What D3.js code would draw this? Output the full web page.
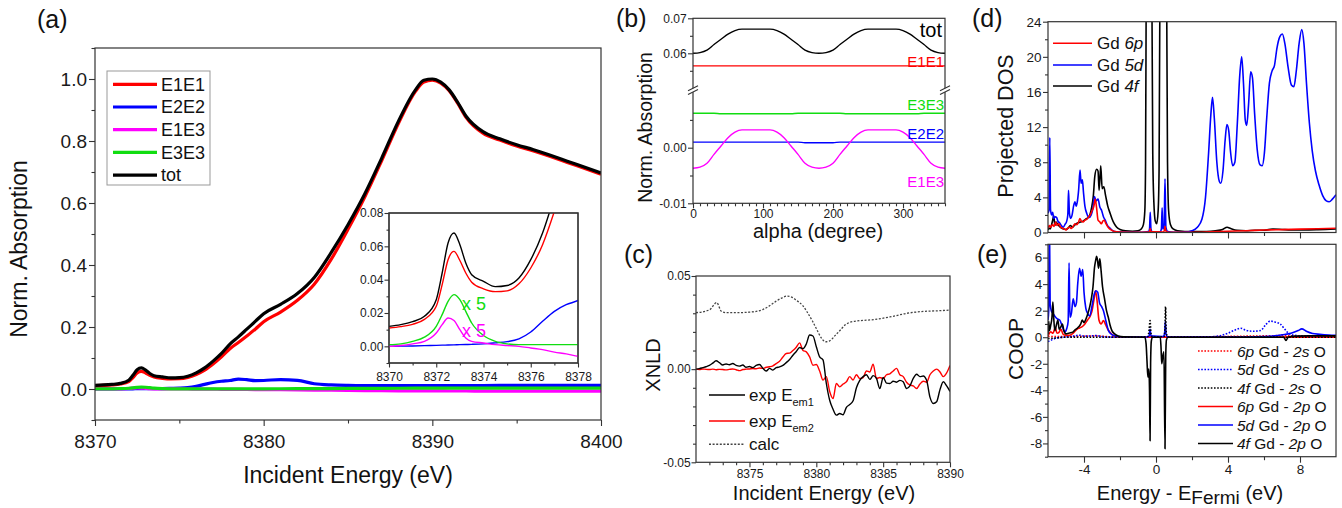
<!DOCTYPE html>
<html>
<head>
<meta charset="utf-8">
<script src="https://cdn.jsdelivr.net/npm/d3@7"></script>
<style>
  body { margin: 0; background: #fff; }
</style>
</head>
<body>
<script>
// ---------- data: panel (a) ----------
const enA   = [8370, 8370.5, 8371, 8371.5, 8372, 8372.25, 8372.5, 8372.75, 8373, 8373.25, 8373.5, 8374, 8374.5, 8375, 8375.5, 8376, 8376.5, 8377, 8377.5, 8378, 8378.5, 8379, 8379.5, 8380, 8381, 8382, 8383, 8384, 8385, 8386, 8387, 8388, 8389, 8389.5, 8390, 8390.5, 8391, 8391.5, 8392, 8393, 8394, 8395, 8396, 8397, 8398, 8399, 8400];
const totA  = [0.0120, 0.0130, 0.0148, 0.0180, 0.0280, 0.0440, 0.0620, 0.0680, 0.0610, 0.0500, 0.0430, 0.0390, 0.0358, 0.0365, 0.0410, 0.0520, 0.0680, 0.0900, 0.1150, 0.1450, 0.1680, 0.1930, 0.2180, 0.2430, 0.2730, 0.3080, 0.3600, 0.4400, 0.5300, 0.6300, 0.7450, 0.8650, 0.9650, 0.9960, 1.0000, 0.9900, 0.9650, 0.9250, 0.8800, 0.8300, 0.8070, 0.7880, 0.7720, 0.7540, 0.7350, 0.7160, 0.6970];
const e1e1A = [0.0110, 0.0118, 0.0132, 0.0162, 0.0240, 0.0370, 0.0520, 0.0570, 0.0515, 0.0440, 0.0385, 0.0345, 0.0328, 0.0333, 0.0375, 0.0470, 0.0610, 0.0810, 0.1040, 0.1300, 0.1500, 0.1710, 0.1930, 0.2170, 0.2480, 0.2860, 0.3380, 0.4180, 0.5150, 0.6200, 0.7370, 0.8580, 0.9600, 0.9900, 0.9960, 0.9870, 0.9620, 0.9220, 0.8760, 0.8250, 0.8030, 0.7840, 0.7680, 0.7500, 0.7310, 0.7120, 0.6930];
const e2e2A = [0.0000, 0.0001, 0.0002, 0.0004, 0.0006, 0.0007, 0.0008, 0.0009, 0.0010, 0.0011, 0.0012, 0.0015, 0.0021, 0.0028, 0.0045, 0.0086, 0.0150, 0.0210, 0.0250, 0.0275, 0.0320, 0.0300, 0.0270, 0.0275, 0.0305, 0.0280, 0.0170, 0.0130, 0.0115, 0.0110, 0.0110, 0.0110, 0.0110, 0.0110, 0.0110, 0.0110, 0.0110, 0.0111, 0.0112, 0.0113, 0.0114, 0.0115, 0.0116, 0.0117, 0.0118, 0.0119, 0.0120];
const e1e3A = [0.0000, 0.0001, 0.0003, 0.0006, 0.0016, 0.0026, 0.0034, 0.0031, 0.0020, 0.0010, 0.0006, 0.0004, 0.0002, 0.0001, 0.0000, -0.0002, -0.0004, -0.0007, -0.0009, -0.0012, -0.0014, -0.0016, -0.0018, -0.0020, -0.0025, -0.0030, -0.0035, -0.0040, -0.0045, -0.0050, -0.0055, -0.0058, -0.0060, -0.0061, -0.0062, -0.0063, -0.0064, -0.0065, -0.0065, -0.0066, -0.0066, -0.0067, -0.0067, -0.0068, -0.0068, -0.0068, -0.0068];
const e3e3A = [0.0002, 0.0003, 0.0006, 0.0011, 0.0024, 0.0038, 0.0054, 0.0062, 0.0056, 0.0042, 0.0028, 0.0013, 0.0006, 0.0003, 0.0002, 0.0002, 0.0002, 0.0002, 0.0002, 0.0002, 0.0003, 0.0004, 0.0005, 0.0006, 0.0008, 0.0010, 0.0012, 0.0015, 0.0018, 0.0020, 0.0022, 0.0024, 0.0026, 0.0027, 0.0028, 0.0028, 0.0029, 0.0029, 0.0030, 0.0030, 0.0030, 0.0030, 0.0030, 0.0030, 0.0030, 0.0030, 0.0030];
const insetScale = 5; // E1E3 and E3E3 are shown x 5 in the inset

// ---------- data: panel (b) ----------
const alphaB = [0, 10, 20, 30, 40, 50, 60, 70, 80, 90, 100, 110, 120, 130, 140, 150, 160, 170, 180, 190, 200, 210, 220, 230, 240, 250, 260, 270, 280, 290, 300, 310, 320, 330, 340, 350, 360];
const totB  = [0.0600, 0.0602, 0.0609, 0.0625, 0.0640, 0.0655, 0.0665, 0.0669, 0.0669, 0.0669, 0.0669, 0.0669, 0.0665, 0.0655, 0.0640, 0.0625, 0.0609, 0.0602, 0.0600, 0.0602, 0.0609, 0.0625, 0.0640, 0.0655, 0.0665, 0.0669, 0.0669, 0.0669, 0.0669, 0.0669, 0.0665, 0.0655, 0.0640, 0.0625, 0.0609, 0.0602, 0.0600];
const e1e1B = [0.0564, 0.0564, 0.0564, 0.0564, 0.0564, 0.0564, 0.0564, 0.0564, 0.0564, 0.0564, 0.0564, 0.0564, 0.0564, 0.0564, 0.0564, 0.0564, 0.0564, 0.0564, 0.0564, 0.0564, 0.0564, 0.0564, 0.0564, 0.0564, 0.0564, 0.0564, 0.0564, 0.0564, 0.0564, 0.0564, 0.0564, 0.0564, 0.0564, 0.0564, 0.0564, 0.0564, 0.0564];
const e3e3B = [0.0062, 0.0062, 0.0062, 0.0062, 0.0061, 0.0061, 0.0061, 0.0061, 0.0061, 0.0061, 0.0061, 0.0061, 0.0061, 0.0061, 0.0061, 0.0062, 0.0062, 0.0062, 0.0062, 0.0062, 0.0062, 0.0062, 0.0061, 0.0061, 0.0061, 0.0061, 0.0061, 0.0061, 0.0061, 0.0061, 0.0061, 0.0061, 0.0061, 0.0062, 0.0062, 0.0062, 0.0062];
const e2e2B = [0.0010, 0.0010, 0.0010, 0.0010, 0.0010, 0.0010, 0.0010, 0.0010, 0.0010, 0.0010, 0.0010, 0.0010, 0.0010, 0.0010, 0.0010, 0.0010, 0.0009, 0.0009, 0.0009, 0.0009, 0.0009, 0.0010, 0.0010, 0.0010, 0.0010, 0.0010, 0.0010, 0.0010, 0.0010, 0.0010, 0.0010, 0.0010, 0.0010, 0.0010, 0.0010, 0.0010, 0.0010];
const e1e3B = [-0.0037, -0.0035, -0.0028, -0.0012, 0.0003, 0.0018, 0.0028, 0.0032, 0.0032, 0.0032, 0.0032, 0.0032, 0.0028, 0.0018, 0.0003, -0.0012, -0.0028, -0.0035, -0.0037, -0.0035, -0.0028, -0.0012, 0.0003, 0.0018, 0.0028, 0.0032, 0.0032, 0.0032, 0.0032, 0.0032, 0.0028, 0.0018, 0.0003, -0.0012, -0.0028, -0.0035, -0.0037];

// ---------- data: panel (c) ----------
const enC = [8371.00, 8371.25, 8371.50, 8371.75, 8372.00, 8372.25, 8372.50, 8372.75, 8373.00, 8373.25, 8373.50, 8373.75, 8374.00, 8374.25, 8374.50, 8374.75, 8375.00, 8375.25, 8375.50, 8375.75, 8376.00, 8376.25, 8376.50, 8376.75, 8377.00, 8377.25, 8377.50, 8377.75, 8378.00, 8378.25, 8378.50, 8378.75, 8379.00, 8379.25, 8379.50, 8379.75, 8380.00, 8380.25, 8380.50, 8380.75, 8381.00, 8381.25, 8381.50, 8381.75, 8382.00, 8382.25, 8382.50, 8382.75, 8383.00, 8383.25, 8383.50, 8383.75, 8384.00, 8384.25, 8384.50, 8384.75, 8385.00, 8385.25, 8385.50, 8385.75, 8386.00, 8386.25, 8386.50, 8386.75, 8387.00, 8387.25, 8387.50, 8387.75, 8388.00, 8388.25, 8388.50, 8388.75, 8389.00, 8389.25, 8389.50, 8389.75, 8390.00];
const expEm1 = [0.0000, 0.0003, 0.0008, 0.0013, 0.0020, 0.0032, 0.0045, 0.0035, 0.0022, 0.0028, 0.0024, 0.0030, 0.0020, 0.0016, 0.0022, 0.0010, 0.0014, 0.0008, 0.0020, 0.0025, 0.0005, -0.0010, 0.0004, -0.0005, 0.0008, 0.0012, 0.0020, 0.0035, 0.0052, 0.0075, 0.0095, 0.0116, 0.0110, 0.0135, 0.0183, 0.0178, 0.0120, 0.0066, 0.0050, -0.0077, -0.0167, -0.0215, -0.0247, -0.0238, -0.0245, -0.0205, -0.0190, -0.0170, -0.0100, -0.0060, -0.0040, -0.0030, -0.0055, -0.0035, -0.0050, -0.0104, -0.0045, -0.0075, -0.0077, -0.0065, -0.0070, -0.0060, -0.0068, -0.0104, -0.0090, -0.0050, -0.0027, -0.0040, -0.0037, -0.0060, -0.0150, -0.0184, -0.0175, -0.0110, -0.0068, -0.0090, -0.0120];
const expEm2 = [0.0000, -0.0002, 0.0001, -0.0001, -0.0002, 0.0000, -0.0003, -0.0001, -0.0002, -0.0004, -0.0001, 0.0001, -0.0003, -0.0008, -0.0002, 0.0000, 0.0001, 0.0003, 0.0002, 0.0006, 0.0004, 0.0010, 0.0013, 0.0018, 0.0030, 0.0042, 0.0065, 0.0084, 0.0086, 0.0100, 0.0118, 0.0141, 0.0100, 0.0093, 0.0066, 0.0021, 0.0025, -0.0010, -0.0059, -0.0040, -0.0120, -0.0158, -0.0077, -0.0095, -0.0080, -0.0068, -0.0040, -0.0058, -0.0030, -0.0050, -0.0045, -0.0010, -0.0015, 0.0027, -0.0050, -0.0045, -0.0050, -0.0030, -0.0025, -0.0010, 0.0004, -0.0030, -0.0040, -0.0070, -0.0085, -0.0090, -0.0104, -0.0080, -0.0065, -0.0070, -0.0030, -0.0010, 0.0000, -0.0015, -0.0040, -0.0020, 0.0020];
const calcC = [[8371, 0.0303], [8372, 0.0318], [8372.55, 0.0357], [8372.9, 0.0310], [8373.3, 0.0303], [8374, 0.0303], [8375, 0.0306], [8375.5, 0.0310], [8376, 0.0320], [8376.5, 0.0340], [8377, 0.0365], [8377.5, 0.0385], [8377.8, 0.0392], [8378.2, 0.0385], [8378.5, 0.0370], [8379, 0.0340], [8379.3, 0.0308], [8379.7, 0.0260], [8380, 0.0218], [8380.4, 0.0165], [8380.7, 0.0147], [8381, 0.0152], [8381.4, 0.0180], [8381.8, 0.0210], [8382.2, 0.0240], [8382.5, 0.0251], [8383, 0.0258], [8384.3, 0.0266], [8385.5, 0.0280], [8386.8, 0.0300], [8388, 0.0310], [8389, 0.0313], [8390, 0.0317]];

// ---------- data: panel (d), [energy, DOS] ----------
const dos6p = [[-6.00,0.5],[-5.92,0.8],[-5.85,0.6],[-5.75,0.9],[-5.66,0.7],[-5.58,1.2],[-5.50,0.8],[-5.40,1.0],[-5.30,0.6],[-5.20,0.5],[-5.10,0.4],[-5.00,0.3],[-4.90,0.5],[-4.80,0.6],[-4.70,0.45],[-4.60,0.7],[-4.50,1.0],[-4.40,0.9],[-4.30,1.2],[-4.23,1.6],[-4.15,1.3],[-4.05,1.2],[-3.95,1.4],[-3.85,1.5],[-3.77,1.7],[-3.65,2.0],[-3.55,2.5],[-3.45,3.0],[-3.38,3.8],[-3.30,2.8],[-3.22,1.4],[-3.12,1.2],[-3.04,1.0],[-2.95,1.3],[-2.87,1.4],[-2.78,1.0],[-2.66,0.6],[-2.50,0.3],[-2.35,0.15],[-2.0,0.05],[-1.0,0.03],[-0.45,0.05],[-0.36,0.1],[-0.32,0.45],[-0.28,0.1],[0.40,0.05],[0.46,0.2],[0.50,0.7],[0.55,0.15],[0.7,0.03],[2.0,0.03],[3.0,0.08],[4.0,0.15],[5.0,0.2],[6.0,0.28],[7.0,0.33],[8.0,0.38],[9.0,0.43],[10.0,0.48]];
const dos5d = [[-6.00,2.2],[-5.94,2.6],[-5.90,10.8],[-5.86,2.6],[-5.80,2.0],[-5.74,2.3],[-5.68,1.6],[-5.60,1.8],[-5.52,1.7],[-5.45,1.3],[-5.36,1.1],[-5.26,0.8],[-5.16,0.6],[-5.06,0.9],[-4.96,1.3],[-4.90,2.0],[-4.86,4.8],[-4.81,2.2],[-4.74,1.6],[-4.66,2.0],[-4.58,3.0],[-4.50,3.5],[-4.44,3.0],[-4.38,3.4],[-4.30,4.8],[-4.22,7.1],[-4.16,5.6],[-4.09,6.0],[-4.03,4.6],[-3.95,3.0],[-3.85,2.2],[-3.72,1.7],[-3.60,2.0],[-3.50,2.8],[-3.42,4.1],[-3.33,3.6],[-3.22,3.8],[-3.12,2.9],[-3.02,2.5],[-2.92,1.8],[-2.82,1.4],[-2.70,0.8],[-2.56,0.5],[-2.40,0.2],[-2.20,0.08],[-1.5,0.03],[-0.8,0.03],[-0.42,0.1],[-0.36,0.4],[-0.32,2.3],[-0.28,0.4],[-0.2,0.08],[0.24,0.1],[0.30,0.4],[0.34,2.8],[0.38,0.4],[0.45,0.6],[0.50,6.1],[0.55,0.6],[0.65,0.1],[1.0,0.03],[1.6,0.05],[2.0,0.2],[2.3,0.6],[2.55,1.5],[2.75,4.0],[2.92,9.0],[3.05,13.5],[3.14,15.4],[3.24,13.0],[3.38,8.0],[3.52,5.8],[3.60,5.6],[3.72,7.0],[3.84,10.5],[3.94,12.3],[4.04,11.6],[4.14,9.2],[4.26,7.6],[4.38,8.0],[4.52,12.5],[4.65,17.8],[4.76,20.0],[4.86,17.0],[4.96,12.8],[5.04,12.2],[5.14,14.5],[5.26,18.3],[5.36,17.6],[5.48,13.5],[5.62,9.5],[5.78,7.7],[5.90,7.6],[6.02,9.0],[6.15,13.0],[6.30,17.0],[6.45,18.4],[6.58,19.0],[6.72,21.0],[6.88,22.3],[7.02,22.6],[7.16,21.5],[7.34,18.8],[7.52,16.8],[7.66,16.6],[7.80,18.5],[7.95,21.5],[8.10,23.1],[8.22,21.5],[8.36,17.0],[8.52,12.5],[8.68,9.3],[8.86,7.0],[9.06,5.4],[9.26,4.2],[9.46,3.6],[9.62,3.5],[9.80,3.8],[10.0,4.3]];
const dos4f = [[-6.00,0.3],[-5.94,0.5],[-5.88,0.4],[-5.80,0.9],[-5.74,1.4],[-5.68,1.9],[-5.62,0.8],[-5.55,1.2],[-5.46,0.9],[-5.36,0.7],[-5.25,0.5],[-5.12,0.4],[-5.00,0.35],[-4.88,0.5],[-4.76,0.8],[-4.64,0.6],[-4.54,0.8],[-4.44,1.0],[-4.33,1.1],[-4.20,1.2],[-4.05,1.3],[-3.92,1.5],[-3.77,1.7],[-3.66,2.1],[-3.58,2.8],[-3.48,4.2],[-3.40,6.4],[-3.30,7.2],[-3.22,7.0],[-3.16,4.8],[-3.07,7.6],[-2.99,5.0],[-2.90,5.2],[-2.80,4.2],[-2.68,3.0],[-2.55,2.2],[-2.45,1.6],[-2.32,1.0],[-2.18,0.6],[-2.0,0.35],[-1.7,0.2],[-1.3,0.15],[-1.0,0.2],[-0.82,0.4],[-0.70,0.9],[-0.62,2.5],[-0.58,8],[-0.55,24],[-0.50,60],[-0.28,60],[-0.22,24],[-0.18,9],[-0.12,3.5],[-0.04,1.3],[0.04,1.0],[0.12,2.5],[0.17,7],[0.21,24],[0.26,60],[0.54,60],[0.60,24],[0.64,8],[0.70,2.5],[0.80,0.9],[0.95,0.4],[1.2,0.2],[2.0,0.1],[2.8,0.12],[3.3,0.2],[3.7,0.35],[3.95,0.6],[4.15,0.45],[4.5,0.25],[5.0,0.2],[5.5,0.25],[6.0,0.25],[6.5,0.4],[7.0,0.35],[7.5,0.3],[8.0,0.3],[8.5,0.3],[9.0,0.32],[10.0,0.4]];

// ---------- data: panel (e), [energy, COOP] ----------
const coop6p2s = [[-6,0.05],[-5,0.05],[-4,0.08],[-3.3,0.1],[-2.5,0.03],[-1,0.02],[0,0.03],[2,0.02],[4,0.06],[6,0.1],[7,0.12],[8,0.1],[10,0.08]];
const coop5d2s = [[-6,-0.33],[-5.8,-0.2],[-5.5,-0.05],[-5.0,0.02],[-4.6,0.08],[-4.25,0.15],[-4.0,0.08],[-3.6,0.1],[-3.3,0.12],[-3.0,0.05],[-2.5,0.01],[-1,0],[0,0.02],[1,0],[2.5,0.01],[3.0,0.03],[3.5,0.1],[4.0,0.3],[4.4,0.55],[4.7,0.68],[5.0,0.52],[5.4,0.45],[5.8,0.5],[6.1,0.95],[6.35,1.22],[6.6,1.15],[6.9,1.0],[7.1,0.7],[7.3,0.38],[7.65,0.15],[8.5,0.08],[10,0.05]];
const coop4f2s = [[-6,-0.1],[-5.5,-0.05],[-5,0],[-1,0],[-0.45,0.05],[-0.38,0.6],[-0.33,1.25],[-0.28,0.3],[-0.2,0.02],[0.45,0.05],[0.5,0.8],[0.53,2.3],[0.57,0.4],[0.65,0.02],[10,0]];
const coop6p2p = [[-6.0,0.1],[-5.85,0.4],[-5.72,0.3],[-5.6,0.75],[-5.5,0.3],[-5.4,0.35],[-5.28,0.6],[-5.15,0.2],[-5.0,0.15],[-4.8,0.15],[-4.6,0.3],[-4.4,0.6],[-4.25,0.7],[-4.1,0.8],[-3.95,1.0],[-3.8,1.3],[-3.65,1.6],[-3.55,2.0],[-3.45,2.8],[-3.36,3.5],[-3.27,2.7],[-3.17,1.3],[-3.05,1.0],[-2.92,1.25],[-2.8,0.95],[-2.68,0.6],[-2.55,0.35],[-2.3,0.1],[-2.0,0.03],[-1,0.01],[10,0.01]];
const coop5d2p = [[-6.0,1.3],[-5.96,2.0],[-5.92,9.0],[-5.88,2.5],[-5.82,2.0],[-5.72,1.8],[-5.63,1.6],[-5.5,1.4],[-5.35,1.3],[-5.2,0.8],[-5.07,0.4],[-4.95,0.7],[-4.88,1.2],[-4.83,5.6],[-4.78,1.5],[-4.7,1.8],[-4.6,2.9],[-4.5,2.3],[-4.42,2.6],[-4.35,4.0],[-4.25,5.2],[-4.16,4.6],[-4.07,5.1],[-4.0,3.4],[-3.9,2.2],[-3.8,1.8],[-3.68,1.6],[-3.55,2.4],[-3.42,3.3],[-3.34,3.5],[-3.24,3.4],[-3.14,2.6],[-3.02,2.3],[-2.92,2.0],[-2.78,1.2],[-2.64,0.5],[-2.45,0.2],[-2.2,0.08],[-1.8,0.02],[-0.5,0.02],[-0.38,0.1],[-0.33,0.6],[-0.28,0.1],[0.4,0.05],[0.48,0.3],[0.52,1.2],[0.56,0.2],[0.65,0.02],[5.0,0.02],[6.0,0.05],[6.6,0.1],[7.0,0.18],[7.5,0.3],[7.9,0.5],[8.1,0.63],[8.35,0.45],[8.7,0.28],[9.1,0.22],[9.6,0.17],[10.0,0.15]];
const coop4f2p = [[-6.0,0.25],[-5.96,1.2],[-5.92,0.5],[-5.85,0.9],[-5.78,1.5],[-5.73,2.65],[-5.68,1.4],[-5.62,0.5],[-5.52,1.0],[-5.45,1.3],[-5.38,0.6],[-5.28,0.8],[-5.2,1.0],[-5.12,0.5],[-5.0,0.25],[-4.85,0.3],[-4.7,0.35],[-4.6,0.4],[-4.5,0.55],[-4.4,0.65],[-4.28,0.8],[-4.18,1.0],[-4.1,1.3],[-4.0,1.1],[-3.95,1.2],[-3.83,1.6],[-3.68,2.3],[-3.58,3.0],[-3.5,3.8],[-3.42,5.2],[-3.35,5.8],[-3.3,6.1],[-3.25,5.8],[-3.19,5.2],[-3.12,5.9],[-3.05,5.0],[-2.97,3.8],[-2.86,2.9],[-2.75,2.0],[-2.65,1.5],[-2.55,0.9],[-2.45,0.5],[-2.3,0.25],[-2.1,0.1],[-1.8,0.03],[-0.62,0.0],[-0.55,-0.5],[-0.5,-1.8],[-0.45,-3.0],[-0.4,-2.4],[-0.36,-4.0],[-0.33,-7.8],[-0.3,-2.0],[-0.26,-0.3],[-0.2,0],[0.24,0],[0.28,-0.8],[0.32,-2.0],[0.38,-1.4],[0.44,-1.1],[0.5,-8.4],[0.54,-1.5],[0.58,-0.2],[0.66,0],[7.1,0],[7.22,-0.25],[7.35,0.02],[7.8,0.08],[8.5,0.1],[10,0.1]];

// ---------- colours ----------
const RED = "#ff0000", BLUE = "#0000ff", MAG = "#ff00ff", GRN = "#11dd11", BLK = "#000000";

const svg = d3.select("body").append("svg")
  .attr("width", 1342).attr("height", 508)
  .style("font-family", "'Liberation Sans', Arial, Helvetica, sans-serif");

// helpers
function clip(id, x0, y0, x1, y1) {
  svg.append("clipPath").attr("id", id).append("rect")
    .attr("x", x0).attr("y", y0).attr("width", x1 - x0).attr("height", y1 - y0);
  return "url(#" + id + ")";
}
function frame(x0, y0, x1, y1, fill) {
  svg.append("rect").attr("x", x0).attr("y", y0).attr("width", x1 - x0).attr("height", y1 - y0)
    .attr("fill", fill || "none").attr("stroke", "#333").attr("stroke-width", 1.2);
}
function curve(data, x, y, color, width, clipUrl, dash) {
  svg.append("path").datum(data)
    .attr("clip-path", clipUrl)
    .attr("fill", "none").attr("stroke", color).attr("stroke-width", width)
    .attr("stroke-dasharray", dash || null).attr("stroke-linejoin", "round")
    .attr("d", d3.line().x(d => x(d[0])).y(d => y(d[1])).curve(d3.curveMonotoneX));
}
function tidy(g, fs) {
  g.select(".domain").remove();
  g.attr("font-family", null).attr("font-size", fs);
  g.selectAll("line").attr("stroke", "#333").attr("stroke-width", 1.1);
  g.selectAll("text").attr("fill", "#1a1a1a");
}
function ticksB(x, y0, vals, len, pad, fmt, fs) {
  const g = svg.append("g").attr("transform", `translate(0,${y0})`)
    .call(d3.axisBottom(x).tickValues(vals).tickSize(len).tickPadding(pad).tickFormat(fmt || (() => "")));
  tidy(g, fs);
}
function ticksL(y, x0, vals, len, pad, fmt, fs) {
  const g = svg.append("g").attr("transform", `translate(${x0},0)`)
    .call(d3.axisLeft(y).tickValues(vals).tickSize(len).tickPadding(pad).tickFormat(fmt || (() => "")));
  tidy(g, fs);
}
function txt(x, y, s, fs, color, anchor) {
  return svg.append("text").attr("x", x).attr("y", y).attr("font-size", fs)
    .attr("fill", color || "#111").attr("text-anchor", anchor || "start").text(s);
}
function vtxt(x, y, s, fs) {
  svg.append("text").attr("transform", `translate(${x},${y}) rotate(-90)`)
    .attr("text-anchor", "middle").attr("font-size", fs).attr("fill", "#111").text(s);
}
const pairs = (xs, ys, k) => xs.map((v, i) => [v, ys[i] * (k || 1)]);
const f0 = d => String(d), f1 = d => d.toFixed(1), f2 = d => d.toFixed(2);

// ================= panel (a) =================
const xa = d3.scaleLinear().domain([8370, 8400]).range([95, 601]);
const ya = d3.scaleLinear().domain([-0.1, 1.1]).range([420, 48]);
const clipA = clip("clipA", 95, 48, 601, 420);
curve(pairs(enA, e2e2A), xa, ya, BLUE, 3.2, clipA);
curve(pairs(enA, e1e3A), xa, ya, MAG, 3.2, clipA);
curve(pairs(enA, e3e3A), xa, ya, GRN, 3.2, clipA);
curve(pairs(enA, e1e1A), xa, ya, RED, 3.2, clipA);
curve(pairs(enA, totA), xa, ya, BLK, 3.2, clipA);
frame(95, 48, 601, 420);
ticksB(xa, 420, [8375, 8385, 8395], 3.5, 0, null, 19);
ticksB(xa, 420, [8370, 8380, 8390, 8400], 6, 8.5, f0, 19);
ticksL(ya, 95, [-0.1, 0.1, 0.3, 0.5, 0.7, 0.9, 1.1], 3.5, 0, null, 19);
ticksL(ya, 95, [0, 0.2, 0.4, 0.6, 0.8, 1.0], 6, 2, f1, 19);
vtxt(27, 249, "Norm. Absorption", 23);
txt(348, 483, "Incident Energy (eV)", 23, "#111", "middle");
txt(37, 28, "(a)", 25);

// legend (a)
svg.append("rect").attr("x", 107).attr("y", 71).attr("width", 103).attr("height", 114)
  .attr("fill", "#fff").attr("stroke", "#999").attr("stroke-width", 1);
[["E1E1", RED], ["E2E2", BLUE], ["E1E3", MAG], ["E3E3", GRN], ["tot", BLK]].forEach((d, i) => {
  const yy = 84.3 + i * 22.7;
  svg.append("line").attr("x1", 113).attr("x2", 157).attr("y1", yy).attr("y2", yy)
    .attr("stroke", d[1]).attr("stroke-width", 3.2);
  txt(161, yy + 6.3, d[0], 18);
});

// inset (a)
const xi = d3.scaleLinear().domain([8370, 8378]).range([389, 578]);
const yi = d3.scaleLinear().domain([-0.01, 0.08]).range([363, 213]);
frame(389, 213, 578, 363, "#fff");
const clipI = clip("clipI", 389, 213, 578, 363);
curve(pairs(enA, e2e2A), xi, yi, BLUE, 1.4, clipI);
curve(pairs(enA, e1e3A, insetScale), xi, yi, MAG, 1.4, clipI);
curve(pairs(enA, e3e3A, insetScale), xi, yi, GRN, 1.4, clipI);
curve(pairs(enA, e1e1A), xi, yi, RED, 1.4, clipI);
curve(pairs(enA, totA), xi, yi, BLK, 1.4, clipI);
frame(389, 213, 578, 363);
ticksB(xi, 363, [8371, 8373, 8375, 8377], 2.5, 0, null, 12);
ticksB(xi, 363, [8370, 8372, 8374, 8376, 8378], 4.5, 4.5, f0, 12);
ticksL(yi, 389, [-0.01, 0.01, 0.03, 0.05, 0.07], 2.5, 0, null, 12);
ticksL(yi, 389, [0, 0.02, 0.04, 0.06, 0.08], 4.5, 1.2, f2, 12);
txt(462, 309.5, "x 5", 18, GRN);
txt(462, 336.5, "x 5", 18, MAG);

// ================= panel (b) =================
const xb = d3.scaleLinear().domain([0, 360]).range([693, 945]);
const ybT = d3.scaleLinear().domain([0.05, 0.07]).range([88.3, 18.3]);
const ybB = d3.scaleLinear().domain([-0.01, 0.01]).range([203.3, 92.1]);
const clipBT = clip("clipBT", 693, 18.3, 945, 88.3);
const clipBB = clip("clipBB", 693, 92.1, 945, 203.3);
curve(pairs(alphaB, totB), xb, ybT, BLK, 1.4, clipBT);
curve(pairs(alphaB, e1e1B), xb, ybT, RED, 1.4, clipBT);
curve(pairs(alphaB, e3e3B), xb, ybB, GRN, 1.4, clipBB);
curve(pairs(alphaB, e2e2B), xb, ybB, BLUE, 1.4, clipBB);
curve(pairs(alphaB, e1e3B), xb, ybB, MAG, 1.4, clipBB);
frame(693, 18.3, 945, 203.3);
// axis break marks
[693, 945].forEach(xx => {
  svg.append("rect").attr("x", xx - 3).attr("y", 88.3).attr("width", 6).attr("height", 3.8).attr("fill", "#fff");
  [88.3, 92.1].forEach(yy => {
    svg.append("line").attr("x1", xx - 5).attr("y1", yy + 2.5).attr("x2", xx + 5).attr("y2", yy - 2.5)
      .attr("stroke", "#333").attr("stroke-width", 1.1);
  });
});
ticksB(xb, 203.3, [10, 20, 30, 40, 50, 60, 70, 80, 90, 110, 120, 130, 140, 150, 160, 170, 180, 190, 210, 220, 230, 240, 250, 260, 270, 280, 290, 310, 320, 330, 340, 350, 360], 3, 0, null, 12);
ticksB(xb, 203.3, [0, 100, 200, 300], 5, 1.5, f0, 12);
ticksL(ybT, 693, [0.055, 0.065], 3, 0, null, 12);
ticksL(ybT, 693, [0.06, 0.07], 5, 1.3, f2, 12);
ticksL(ybB, 693, [-0.005, 0.005], 3, 0, null, 12);
ticksL(ybB, 693, [-0.01, 0], 5, 1.3, f2, 12);
vtxt(652, 127.5, "Norm. Absorption", 19.5);
txt(818, 238, "alpha (degree)", 20, "#111", "middle");
txt(616, 27, "(b)", 25);
txt(942, 37, "tot", 20, BLK, "end");
txt(944, 67, "E1E1", 15, RED, "end");
txt(944, 109.5, "E3E3", 15, GRN, "end");
txt(944, 138.5, "E2E2", 15, BLUE, "end");
txt(944, 187, "E1E3", 15, MAG, "end");

// ================= panel (c) =================
const xc = d3.scaleLinear().domain([8371, 8390]).range([696, 950]);
const yc = d3.scaleLinear().domain([-0.05, 0.05]).range([462.3, 276]);
const clipC = clip("clipC", 696, 276, 950, 462.3);
curve(calcC, xc, yc, "#444", 1.3, clipC, "2,1.6");
curve(pairs(enC, expEm2), xc, yc, RED, 1.4, clipC);
curve(pairs(enC, expEm1), xc, yc, BLK, 1.4, clipC);
frame(696, 276, 950, 462.3);
ticksB(xc, 462.3, [8372, 8373, 8374, 8376, 8377, 8378, 8379, 8381, 8382, 8383, 8384, 8386, 8387, 8388, 8389], 3, 0, null, 12);
ticksB(xc, 462.3, [8375, 8380, 8385, 8390], 5, 2.2, f0, 12);
ticksL(yc, 696, [-0.04, -0.03, -0.02, -0.01, 0.01, 0.02, 0.03, 0.04], 3, 0, null, 12);
ticksL(yc, 696, [-0.05, 0, 0.05], 4.5, 0.8, f2, 12);
vtxt(660, 365, "XNLD", 20);
txt(824, 500, "Incident Energy (eV)", 20, "#111", "middle");
txt(624, 263, "(c)", 25);
// legend (c)
[["em1", BLK, null], ["em2", RED, null], [null, "#444", "2,1.6"]].forEach((d, i) => {
  const yy = [395, 421, 444.3][i];
  svg.append("line").attr("x1", 709).attr("x2", 745).attr("y1", yy).attr("y2", yy)
    .attr("stroke", d[1]).attr("stroke-width", 1.4).attr("stroke-dasharray", d[2]);
  const t = txt(749, yy + 6, d[0] ? "exp E" : "calc", 17);
  if (d[0]) t.append("tspan").attr("font-size", 11).attr("dy", 5).text(d[0]);
});

// ================= panel (d) =================
const xd = d3.scaleLinear().domain([-6, 10]).range([1048, 1336]);
const yd = d3.scaleLinear().domain([0, 24]).range([232.5, 21.7]);
const clipD = clip("clipD", 1048, 21.7, 1336, 232.5);
curve(dos4f, xd, yd, BLK, 1.6, clipD);
curve(dos5d, xd, yd, BLUE, 1.6, clipD);
curve(dos6p, xd, yd, RED, 1.6, clipD);
frame(1048, 21.7, 1336, 232.5);
ticksB(xd, 232.5, [-2, 2, 6], 3.5, 0, null, 13.5);
ticksB(xd, 232.5, [-4, 0, 4, 8], 6, 0, null, 13.5);
ticksL(yd, 1048, [2, 6, 10, 14, 18, 22], 3, 0, null, 13.5);
ticksL(yd, 1048, [0, 4, 8, 12, 16, 20, 24], 5, 1.6, f0, 13.5);
vtxt(1013, 126, "Projected DOS", 21.5);
txt(972, 27, "(d)", 25);
[["6p", RED], ["5d", BLUE], ["4f", BLK]].forEach((d, i) => {
  const yy = [43.3, 65, 86][i];
  svg.append("line").attr("x1", 1053).attr("x2", 1092).attr("y1", yy).attr("y2", yy)
    .attr("stroke", d[1]).attr("stroke-width", 1.6);
  const t = txt(1097, yy + 6, "Gd ", 17);
  t.append("tspan").attr("font-style", "italic").text(d[0]);
});

// ================= panel (e) =================
const xe = xd;
const ye = d3.scaleLinear().domain([-9, 7]).range([456.7, 244.3]);
const clipE = clip("clipE", 1048, 244.3, 1336, 456.7);
curve(coop6p2s, xe, ye, RED, 1.6, clipE, "1.6,1.6");
curve(coop5d2s, xe, ye, BLUE, 1.6, clipE, "1.6,1.6");
curve(coop6p2p, xe, ye, RED, 1.6, clipE);
curve(coop5d2p, xe, ye, BLUE, 1.6, clipE);
curve(coop4f2p, xe, ye, BLK, 1.6, clipE);
curve(coop4f2s, xe, ye, BLK, 1.6, clipE, "1.6,1.6");
frame(1048, 244.3, 1336, 456.7);
ticksB(xe, 456.7, [-2, 2, 6], 3.5, 0, null, 13.5);
ticksB(xe, 456.7, [-4, 0, 4, 8], 6, 1.5, f0, 13.5);
ticksL(ye, 1048, [-9, -7, -5, -3, -1, 1, 3, 5, 7], 3, 0, null, 13.5);
ticksL(ye, 1048, [-8, -6, -4, -2, 0, 2, 4, 6], 5, 0.8, f0, 13.5);
vtxt(1023, 349, "COOP", 21);
const xl = txt(1190, 500, "Energy - E", 20, "#111", "middle");
xl.append("tspan").attr("dy", 4).attr("font-size", 19).text("Fermi");
xl.append("tspan").attr("dy", -4).text(" (eV)");
txt(977, 263, "(e)", 25);
[["6p", "2s", RED, "1.6,1.6"], ["5d", "2s", BLUE, "1.6,1.6"], ["4f", "2s", BLK, "1.6,1.6"],
 ["6p", "2p", RED, null], ["5d", "2p", BLUE, null], ["4f", "2p", BLK, null]].forEach((d, i) => {
  const yy = 351 + i * 18.5;
  svg.append("line").attr("x1", 1198).attr("x2", 1233).attr("y1", yy).attr("y2", yy)
    .attr("stroke", d[2]).attr("stroke-width", 1.6).attr("stroke-dasharray", d[3]);
  const t = txt(1237, yy + 5.5, "", 15.5);
  t.append("tspan").attr("font-style", "italic").text(d[0]);
  t.append("tspan").text(" Gd - ");
  t.append("tspan").attr("font-style", "italic").text(d[1]);
  t.append("tspan").text(" O");
});
</script>
</body>
</html>
